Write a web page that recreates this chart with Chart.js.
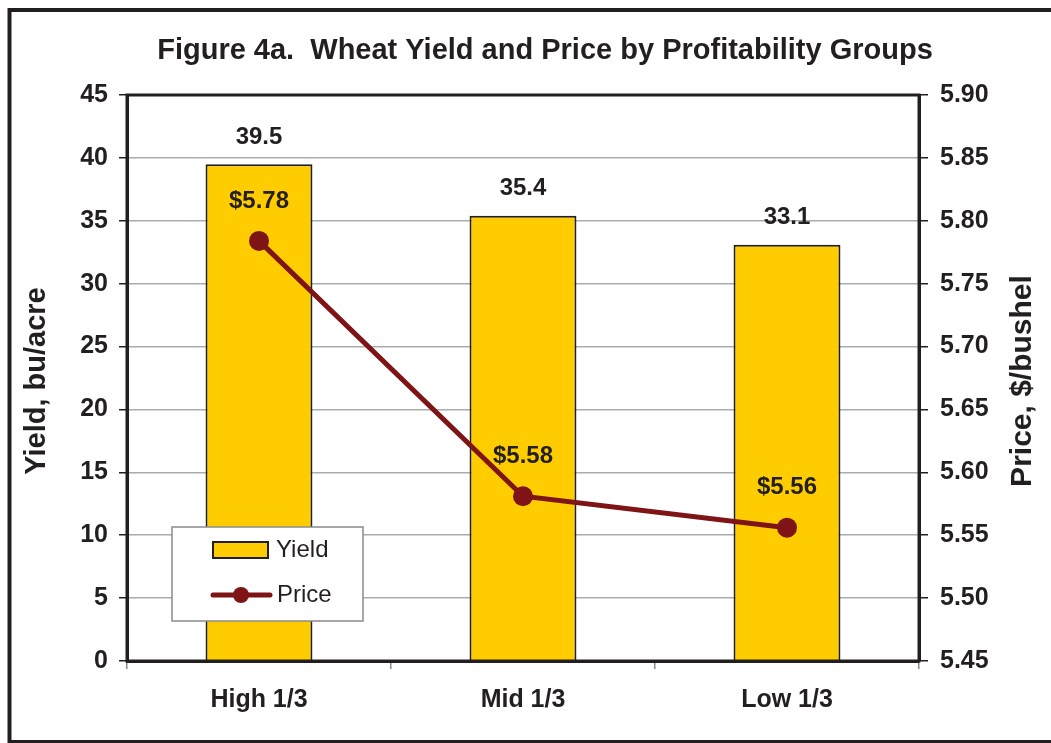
<!DOCTYPE html>
<html>
<head>
<meta charset="utf-8">
<script src="https://cdn.jsdelivr.net/npm/chart.js@4/dist/chart.umd.min.js"></script>
<style>
html,body{margin:0;padding:0;background:#fff;}
#c{display:block;}
</style>
</head>
<body>
<canvas id="c" width="1051" height="743"></canvas>
<script>
const categories = ["High 1/3", "Mid 1/3", "Low 1/3"];
const yieldValues = [39.5, 35.4, 33.1];
const priceValues = [5.784, 5.581, 5.556];
const yieldTicks = {min: 0, max: 45, step: 5};
const priceTicks = {min: 5.45, max: 5.90, step: 0.05};
const titleText = "Figure 4a.  Wheat Yield and Price by Profitability Groups";
const leftTitle = "Yield, bu/acre";
const rightTitle = "Price, $/bushel";

const FONT = "'Liberation Sans', Arial, sans-serif";
const DARK = "#231F20";
const BAR = "#FFCC00";
const LINE = "#7F1416";

const decor = {
  id: 'decor',
  beforeDraw(chart) {
    const ctx = chart.ctx;
    ctx.save();
    ctx.fillStyle = '#fff';
    ctx.fillRect(0, 0, chart.width, chart.height);
    ctx.restore();
  },
  afterDraw(chart) {
    const ctx = chart.ctx;
    const a = chart.chartArea;
    ctx.save();
    // plot border
    ctx.strokeStyle = DARK;
    ctx.lineWidth = 3;
    ctx.strokeRect(a.left, a.top, a.right - a.left, a.bottom - a.top);
    // outer frame
    ctx.lineWidth = 4;
    ctx.strokeRect(9.5, 10, 1100, 732);
    // title
    ctx.fillStyle = DARK;
    ctx.font = "bold 29px " + FONT;
    ctx.textAlign = 'center';
    ctx.textBaseline = 'middle';
    ctx.fillText(titleText, 545, 51);
    // axis titles
    ctx.font = "bold 29px " + FONT;
    ctx.save();
    ctx.translate(37, 381);
    ctx.rotate(-Math.PI / 2);
    ctx.fillText(leftTitle, 0, 0);
    ctx.restore();
    ctx.font = "bold 30px " + FONT;
    ctx.save();
    ctx.translate(1023, 381);
    ctx.rotate(-Math.PI / 2);
    ctx.fillText(rightTitle, 0, 0);
    ctx.restore();
    // data labels
    ctx.font = "bold 24px " + FONT;
    const barMeta = chart.getDatasetMeta(0);
    barMeta.data.forEach((el, i) => {
      ctx.fillText(yieldValues[i].toFixed(1), el.x, el.y - 27);
    });
    const lineMeta = chart.getDatasetMeta(1);
    lineMeta.data.forEach((el, i) => {
      ctx.fillText('$' + priceValues[i].toFixed(2), el.x, el.y - 40);
    });
    // legend
    const ds = chart.data.datasets;
    ctx.fillStyle = '#fff';
    ctx.fillRect(172, 527, 191, 94);
    ctx.strokeStyle = '#8a8a8a';
    ctx.lineWidth = 1.5;
    ctx.strokeRect(172, 527, 191, 94);
    ctx.fillStyle = ds[0].backgroundColor;
    ctx.fillRect(213, 542, 55, 16);
    ctx.strokeStyle = ds[0].borderColor;
    ctx.lineWidth = 2;
    ctx.strokeRect(213, 542, 55, 16);
    ctx.strokeStyle = ds[1].borderColor;
    ctx.lineWidth = 5;
    ctx.lineCap = 'round';
    ctx.beginPath();
    ctx.moveTo(213, 595);
    ctx.lineTo(270, 595);
    ctx.stroke();
    ctx.fillStyle = ds[1].pointBackgroundColor;
    ctx.beginPath();
    ctx.arc(241, 595, 8, 0, Math.PI * 2);
    ctx.fill();
    ctx.fillStyle = DARK;
    ctx.font = "24px " + FONT;
    ctx.textAlign = 'left';
    ctx.fillText(ds[0].label, 276, 550);
    ctx.fillText(ds[1].label, 277, 595);
    ctx.restore();
  }
};

new Chart(document.getElementById('c'), {
  type: 'bar',
  data: {
    labels: categories,
    datasets: [
      {
        type: 'bar',
        label: 'Yield',
        data: yieldValues,
        yAxisID: 'y',
        backgroundColor: BAR,
        borderColor: DARK,
        borderWidth: 2,
        barPercentage: 0.405,
        categoryPercentage: 1,
        order: 2
      },
      {
        type: 'line',
        label: 'Price',
        data: priceValues,
        yAxisID: 'y1',
        borderColor: LINE,
        backgroundColor: LINE,
        borderWidth: 5,
        pointRadius: 10,
        pointBackgroundColor: LINE,
        pointBorderColor: LINE,
        pointBorderWidth: 0,
        tension: 0,
        order: 1
      }
    ]
  },
  options: {
    responsive: false,
    animation: false,
    devicePixelRatio: 1,
    layout: {padding: {left: 10, right: 10, top: 95, bottom: 10}},
    plugins: {legend: {display: false}, title: {display: false}, tooltip: {enabled: false}},
    scales: {
      x: {
        offset: true,
        grid: {display: true, drawOnChartArea: false, offset: true, tickLength: 8, color: '#8a8a8a', lineWidth: 1.5},
        border: {display: true, color: DARK, width: 3},
        ticks: {font: {family: FONT, size: 25, weight: 'bold'}, color: DARK, padding: 16},
        afterFit(s) { s.height = 72; }
      },
      y: {
        position: 'left',
        min: yieldTicks.min, max: yieldTicks.max,
        grid: {color: '#ababab', lineWidth: 1.5, tickLength: 8, tickColor: DARK},
        border: {display: true, color: DARK, width: 3},
        ticks: {stepSize: yieldTicks.step, font: {family: FONT, size: 25, weight: 'bold'}, color: DARK, padding: 11},
        afterFit(s) { s.width = 117; }
      },
      y1: {
        position: 'right',
        min: priceTicks.min, max: priceTicks.max,
        grid: {drawOnChartArea: false, tickLength: 9, color: DARK, lineWidth: 1.5},
        border: {display: true, color: DARK, width: 3},
        ticks: {stepSize: priceTicks.step, font: {family: FONT, size: 25, weight: 'bold'}, color: DARK, padding: 12,
          callback: v => Number(v).toFixed(2)},
        afterFit(s) { s.width = 122; }
      }
    }
  },
  plugins: [decor]
});
</script>
</body>
</html>
